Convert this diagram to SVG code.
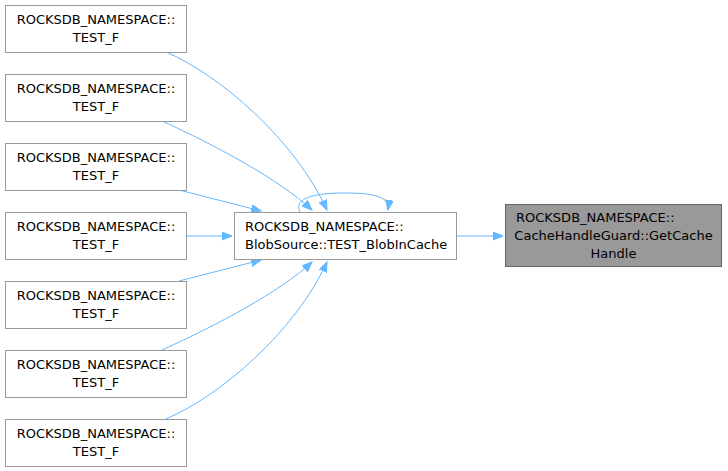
<svg xmlns="http://www.w3.org/2000/svg" width="728" height="471" viewBox="0 0 728 471">
<style>
.n rect{fill:#fff;stroke:#999;stroke-width:1}
.h rect{fill:#999;stroke:#666;stroke-width:1}
text{font-family:"DejaVu Sans",sans-serif;font-size:13px;fill:#000;text-anchor:middle}
text.l{text-anchor:start}
.e path{fill:none;stroke:#63b8ff;stroke-width:1}
</style>
<defs>
<marker id="a" markerWidth="12" markerHeight="10" refX="10" refY="4" orient="auto" markerUnits="userSpaceOnUse">
<path d="M0,0 L10,4 L0,8 Z" fill="#63b8ff" stroke="#63b8ff"/>
</marker>
</defs>
<rect width="728" height="471" fill="#fff"/>
<g class="e">
<path d="M166,52 C220,75 295,140 327,210" marker-end="url(#a)"/>
<path d="M162,121 C215,145 280,180 312,210" marker-end="url(#a)"/>
<path d="M179,190 L261,211" marker-end="url(#a)"/>
<path d="M186,236 L232,236" marker-end="url(#a)"/>
<path d="M179,281 L261,260" marker-end="url(#a)"/>
<path d="M162,350 C215,326 280,292 312,262" marker-end="url(#a)"/>
<path d="M166,419 C220,396 295,332 327,262" marker-end="url(#a)"/>
<path d="M300,212 C293,198 315,193 345,193 C375,193 390,197 388,210" marker-end="url(#a)"/>
<path d="M457,236 L503,236" marker-end="url(#a)"/>
</g>
<g id="n1" class="n"><rect x="5.5" y="5.5" width="181" height="47"/><text x="96" y="24">ROCKSDB_NAMESPACE::</text><text x="96" y="42">TEST_F</text></g>
<g id="n2" class="n"><rect x="5.5" y="74.5" width="181" height="47"/><text x="96" y="93">ROCKSDB_NAMESPACE::</text><text x="96" y="111">TEST_F</text></g>
<g id="n3" class="n"><rect x="5.5" y="143.5" width="181" height="47"/><text x="96" y="162">ROCKSDB_NAMESPACE::</text><text x="96" y="180">TEST_F</text></g>
<g id="n4" class="n"><rect x="5.5" y="212.5" width="181" height="47"/><text x="96" y="231">ROCKSDB_NAMESPACE::</text><text x="96" y="249">TEST_F</text></g>
<g id="n5" class="n"><rect x="5.5" y="281.5" width="181" height="47"/><text x="96" y="300">ROCKSDB_NAMESPACE::</text><text x="96" y="318">TEST_F</text></g>
<g id="n6" class="n"><rect x="5.5" y="350.5" width="181" height="47"/><text x="96" y="369">ROCKSDB_NAMESPACE::</text><text x="96" y="387">TEST_F</text></g>
<g id="n7" class="n"><rect x="5.5" y="419.5" width="181" height="47"/><text x="96" y="438">ROCKSDB_NAMESPACE::</text><text x="96" y="456">TEST_F</text></g>
<g id="center" class="n"><rect x="234.5" y="212.5" width="222" height="47"/><text class="l" x="245" y="231">ROCKSDB_NAMESPACE::</text><text class="l" x="245" y="249">BlobSource::TEST_BlobInCache</text></g>
<g id="target" class="h"><rect x="505.5" y="204.5" width="216" height="62"/><text class="l" x="516" y="222">ROCKSDB_NAMESPACE::</text><text x="613.5" y="240">CacheHandleGuard::GetCache</text><text x="613.5" y="258">Handle</text></g>
</svg>
